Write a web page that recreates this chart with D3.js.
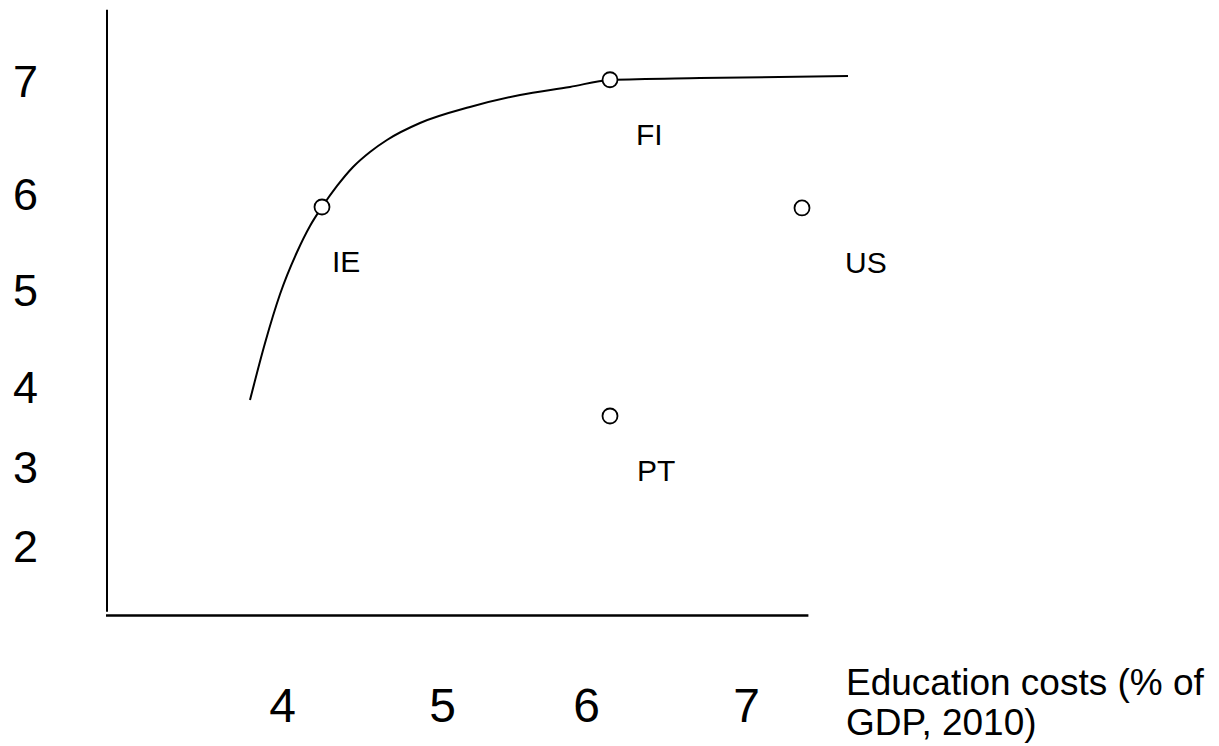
<!DOCTYPE html>
<html>
<head>
<meta charset="utf-8">
<script src="https://cdn.jsdelivr.net/npm/d3@7"></script>
<style>
  body { margin: 0; background: #fff; }
  svg { display: block; font-family: "Liberation Sans", Arial, sans-serif; }
</style>
</head>
<body>
<script>
// tick labels
var xTicks = [4, 5, 6, 7];
var yTicks = [2, 3, 4, 5, 6, 7];

// countries
var countries = ["IE", "FI", "US", "PT"];
var eduCost = [4.25, 6.15, 7.35, 6.15];
var score = [5.875, 7.02, 5.865, 3.65];

// hand drawn curve
var curveX = [3.80, 3.894, 3.988, 4.094, 4.175, 4.25, 4.344, 4.444, 4.55, 4.656, 4.8625, 5.194, 5.542, 5.889, 6.15, 6.7125, 7.6375];
var curveY = [3.85, 4.464, 4.969, 5.406, 5.677, 5.875, 6.08, 6.248, 6.381, 6.487, 6.637, 6.779, 6.885, 6.956, 7.018, 7.035, 7.053];

// axis line extents (data units)
var xExtent = [2.9, 7.39];
var yExtent = [1.18, 7.64];

var xTitle = ["Education costs (% of", "GDP, 2010)"];

var width = 1219,
    height = 746;

var svg = d3.select('body').append('svg')
    .attr('width', width)
    .attr('height', height);

// the slide's tick labels are not evenly spaced, so piecewise scales
var x = d3.scaleLinear()
    .domain(xTicks)
    .range([282, 442, 586, 746]);
var y = d3.scaleLinear()
    .domain(yTicks)
    .range([547, 468, 388, 291, 195, 82]);

// axes
var axisX = 107, axisY = 615.5;

svg.append('line')
    .attr('x1', axisX).attr('x2', axisX)
    .attr('y1', y(yExtent[1])).attr('y2', y(yExtent[0]))
    .attr('stroke', '#000').attr('stroke-width', 2);
svg.append('line')
    .attr('x1', x(xExtent[0])).attr('x2', x(xExtent[1]))
    .attr('y1', axisY).attr('y2', axisY)
    .attr('stroke', '#000').attr('stroke-width', 2.5);

var gy = svg.append('g')
    .attr('transform', 'translate(' + axisX + ',0)')
    .call(d3.axisLeft(y).tickValues(yTicks).tickSize(0).tickFormat(d3.format('d')));
gy.select('.domain').remove();
gy.selectAll('text')
    .attr('x', -94)
    .attr('text-anchor', 'start')
    .style('font-size', '45px')
    .style('font-family', '"Liberation Sans", Arial, sans-serif')
    .attr('fill', '#000');

var gx = svg.append('g')
    .attr('transform', 'translate(0,' + axisY + ')')
    .call(d3.axisBottom(x).tickValues(xTicks).tickSize(0).tickPadding(72).tickFormat(d3.format('d')));
gx.select('.domain').remove();
gx.selectAll('text')
    .style('font-size', '48px')
    .style('font-family', '"Liberation Sans", Arial, sans-serif')
    .attr('fill', '#000');

// x axis title
svg.append('text')
    .attr('x', 846)
    .attr('y', 695)
    .style('font-size', '37px')
    .selectAll('tspan')
    .data(xTitle)
    .enter()
    .append('tspan')
    .attr('x', 846)
    .attr('dy', function(d, i) { return i ? 40 : 0 })
    .text(function(d) { return d });

// curve
var line = d3.line()
    .x(function(d, i) { return x(curveX[i]) })
    .y(function(d, i) { return y(curveY[i]) })
    .curve(d3.curveMonotoneX);

svg.append('path')
    .datum(curveX)
    .attr('d', line)
    .attr('fill', 'none')
    .attr('stroke', '#000')
    .attr('stroke-width', 2);

// points + labels
var labelDx = [10, 26, 43, 27];

svg.selectAll('circle')
    .data(countries)
    .enter()
    .append('circle')
    .attr('cx', function(d, i) { return x(eduCost[i]) })
    .attr('cy', function(d, i) { return y(score[i]) })
    .attr('r', 7.5)
    .attr('fill', '#fff')
    .attr('stroke', '#000')
    .attr('stroke-width', 1.8);

svg.selectAll('text.lbl')
    .data(countries)
    .enter()
    .append('text')
    .attr('class', 'lbl')
    .attr('x', function(d, i) { return x(eduCost[i]) + labelDx[i] })
    .attr('y', function(d, i) { return y(score[i]) + 65 })
    .style('font-size', '30px')
    .text(function(d) { return d });
</script>
</body>
</html>
